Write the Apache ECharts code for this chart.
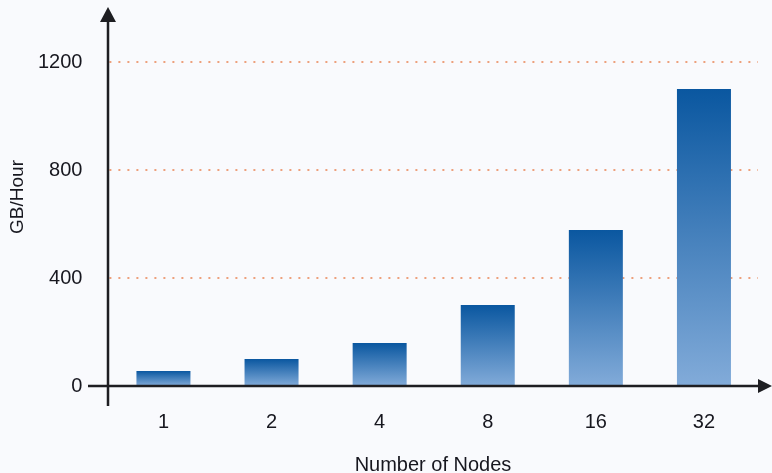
<!DOCTYPE html>
<html lang="en">
<head>
    <meta charset="UTF-8">
    <title>GB/Hour by number of nodes</title>
    <script src="https://cdn.jsdelivr.net/npm/echarts@6/dist/echarts.min.js"></script>
    <style>
        html, body { margin: 0; padding: 0; background: #f9fafd; }
        #chart1 { width: 772px; height: 473px; }
    </style>
</head>
<body>
<div id="chart1"></div>
<script>
    // data
    var nodes = ['1', '2', '4', '8', '16', '32'];
    var gbPerHour = [56, 100, 159, 300, 578, 1100];
    var yTicks = [0, 400, 800, 1200];

    // layout (px)
    var gLeft = 108, gTop = 8, gRight = 14, gBottom = 87;
    var W = 772, H = 473;
    var x0 = gLeft, y0 = H - gBottom;
    var axisColor = '#1e1e22';
    var textColor = '#17171f';

    var myChart1 = echarts.init(document.getElementById('chart1'));
    var option1 = {
        backgroundColor: '#f9fafd',
        animation: false,
        grid: { left: gLeft, top: gTop, right: gRight, bottom: gBottom },
        xAxis: {
            type: 'category',
            data: nodes,
            axisLine: { show: false },
            axisTick: { show: false },
            axisLabel: {
                margin: 26,
                fontSize: 20,
                color: textColor,
                fontFamily: 'Liberation Sans'
            }
        },
        yAxis: {
            type: 'value',
            min: 0,
            max: 1400,
            interval: 400,
            name: 'GB/Hour',
            nameLocation: 'middle',
            nameGap: 78,
            nameTextStyle: { fontSize: 19, color: textColor, fontFamily: 'Liberation Sans' },
            axisLine: { show: false },
            axisTick: { show: false },
            axisLabel: {
                margin: 27,
                fontSize: 20,
                color: textColor,
                fontFamily: 'Liberation Sans',
                showMaxLabel: false,
                formatter: function (v) { return yTicks.indexOf(v) >= 0 ? String(v) : ''; }
            },
            splitLine: {
                show: true,
                showMinLine: false,
                showMaxLine: false,
                lineStyle: { color: '#eda07c', width: 2, type: [2, 7] }
            }
        },
        series: [
            {
                name: 'GB/Hour',
                type: 'bar',
                barWidth: 54,
                itemStyle: {
                    color: new echarts.graphic.LinearGradient(0, 0, 0, 1, [
                        { offset: 0, color: '#0a57a0' },
                        { offset: 1, color: '#82abd9' }
                    ])
                },
                data: gbPerHour
            }
        ],
        graphic: [
            // y axis with arrow
            { type: 'line', shape: { x1: x0, y1: y0 + 20, x2: x0, y2: gTop + 12 },
              style: { stroke: axisColor, lineWidth: 2.5 }, z: 100 },
            { type: 'polygon', shape: { points: [[x0, gTop - 1], [x0 - 8, gTop + 14], [x0 + 8, gTop + 14]] },
              style: { fill: axisColor }, z: 100 },
            // x axis with arrow
            { type: 'line', shape: { x1: x0 - 20, y1: y0, x2: W - 10, y2: y0 },
              style: { stroke: axisColor, lineWidth: 2.5 }, z: 100 },
            { type: 'polygon', shape: { points: [[W, y0], [W - 14, y0 - 7], [W - 14, y0 + 7]] },
              style: { fill: axisColor }, z: 100 },
            // x axis name
            { type: 'text', x: 433, y: 465, z: 100,
              style: { text: 'Number of Nodes', fontSize: 20, fill: textColor,
                       fontFamily: 'Liberation Sans', align: 'center', verticalAlign: 'middle' } }
        ]
    };
    myChart1.setOption(option1);
</script>
</body>
</html>
